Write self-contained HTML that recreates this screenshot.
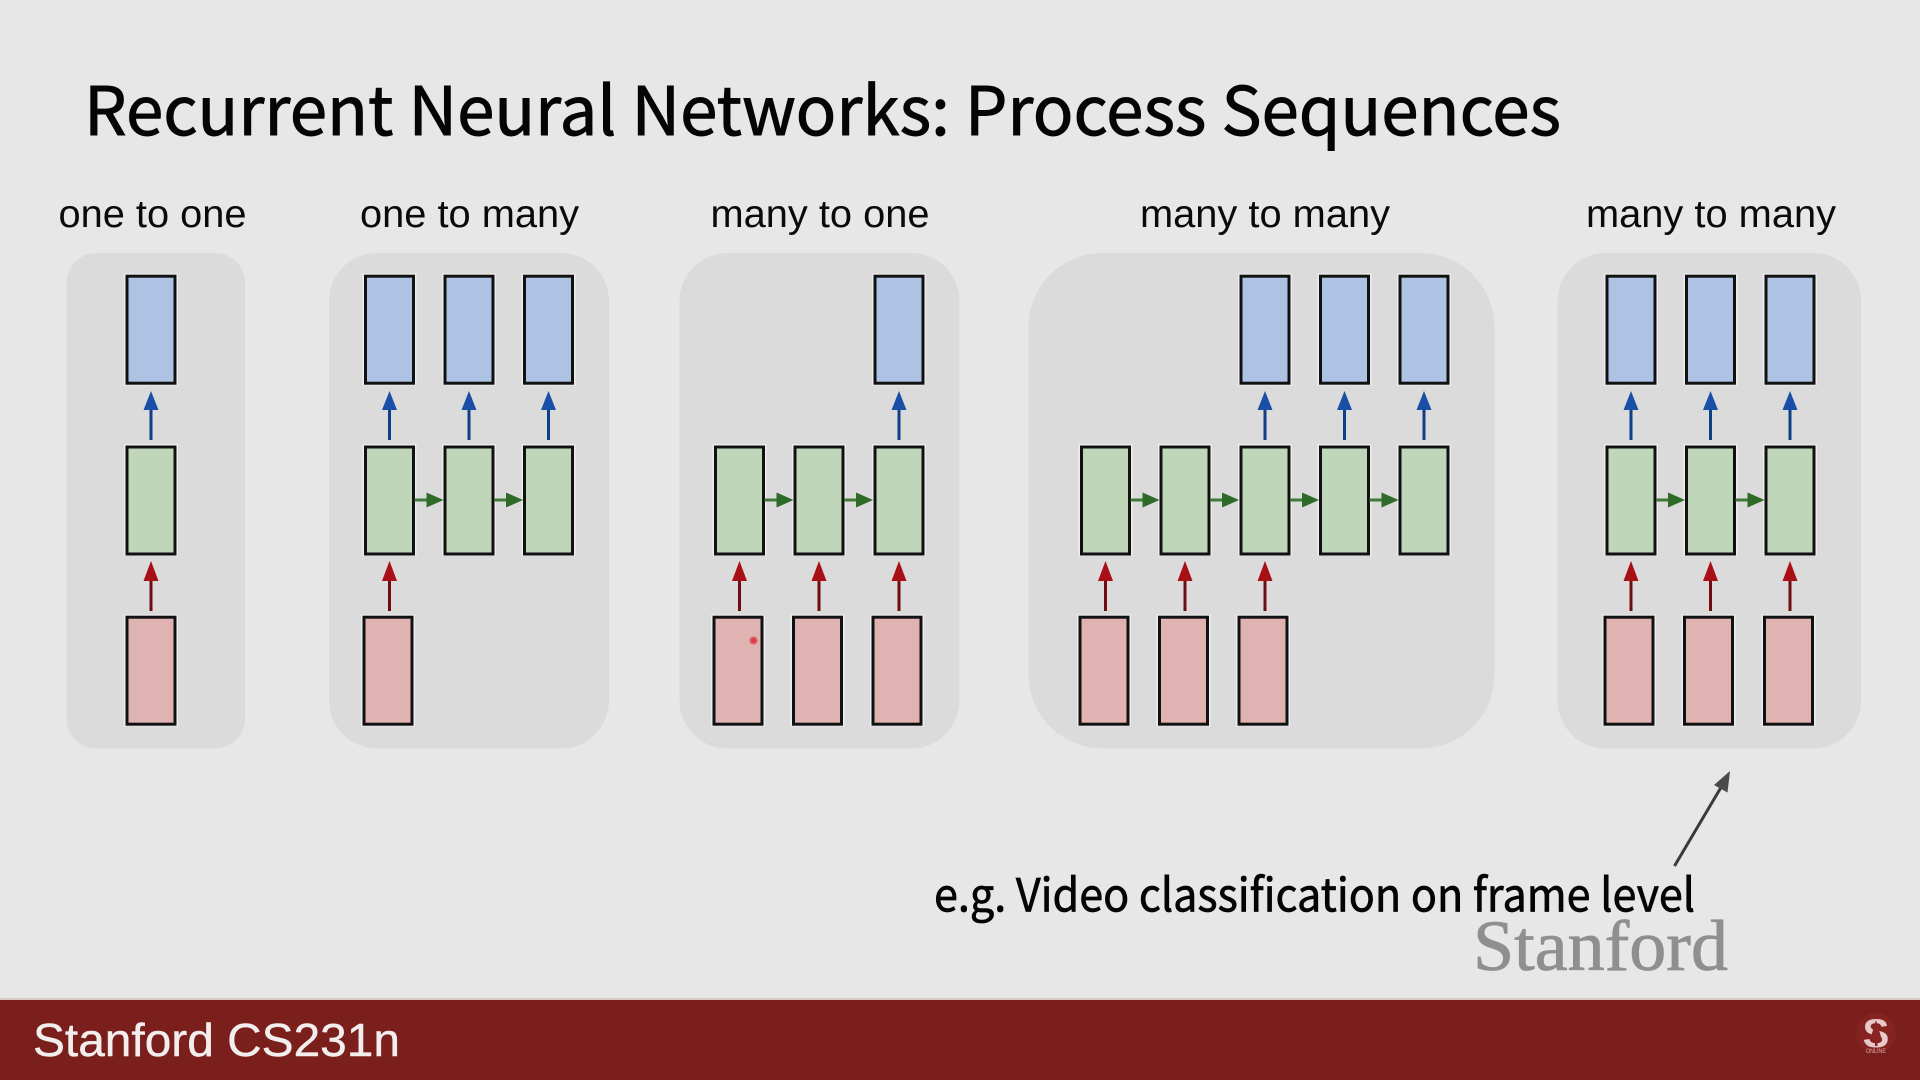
<!DOCTYPE html>
<html><head><meta charset="utf-8"><title>Recurrent Neural Networks: Process Sequences</title>
<style>html,body{margin:0;padding:0;background:#e7e7e7}svg{display:block}</style></head>
<body>
<svg xmlns="http://www.w3.org/2000/svg" width="1920" height="1080" viewBox="0 0 1920 1080">
<defs>
<g id="b"><rect x="-24.5" y="276" width="49" height="107" fill="#aec3e3" stroke="#fff" stroke-width="5" stroke-opacity=".5"/><rect x="-24" y="276.2" width="48" height="107" fill="#aec3e3" stroke="#111" stroke-width="3"/></g>
<g id="g"><rect x="-24.5" y="446.5" width="49" height="107" fill="#c0d6b9" stroke="#fff" stroke-width="5" stroke-opacity=".5"/><rect x="-24" y="447" width="48" height="107" fill="#c0d6b9" stroke="#111" stroke-width="3"/></g>
<g id="r"><rect x="-24.5" y="617" width="49" height="107" fill="#e0b3b3" stroke="#fff" stroke-width="5" stroke-opacity=".5"/><rect x="-24" y="617.2" width="48" height="107" fill="#e0b3b3" stroke="#111" stroke-width="3"/></g>
<g id="ab"><line x1="0" y1="440" x2="0" y2="408" stroke="#0f3f86" stroke-width="3"/><path d="M0 391L7.5 410H-7.5Z" fill="#1a4fa8"/></g>
<g id="ar"><line x1="0" y1="611" x2="0" y2="578" stroke="#6e0d12" stroke-width="3"/><path d="M0 561L7.5 581H-7.5Z" fill="#a80f16"/></g>
<g id="ag"><line x1="0" y1="500" x2="13" y2="500" stroke="#3f7a37" stroke-width="3"/><path d="M12 492.5L29 500L12 507.5Z" fill="#2f6b28"/></g>
</defs>
<rect width="1920" height="1080" fill="#e7e7e7"/>

<g fill="#dadbda">
<rect x="66.500" y="253" width="178.500" height="495.500" rx="30"/>
<rect x="329" y="253" width="280" height="495.500" rx="48"/>
<rect x="679.500" y="253" width="280" height="495.500" rx="48"/>
<rect x="1028.500" y="253" width="466" height="495.500" rx="74"/>
<rect x="1557.500" y="253" width="303.500" height="495.500" rx="48"/>
</g>

<g font-family="'Noto Sans CJK SC','Liberation Sans',sans-serif" fill="#050505" stroke="#050505">
<text x="84" y="135" font-size="67" stroke-width=".9" textLength="1477" lengthAdjust="spacingAndGlyphs">Recurrent Neural Networks: Process Sequences</text>
<text x="934" y="911.500" font-size="46" stroke-width=".7" textLength="761" lengthAdjust="spacingAndGlyphs">e.g. Video classification on frame level</text>
</g>

<g font-family="'Liberation Sans',sans-serif" font-size="39" fill="#0a0a0a">
<text x="58.500" y="227" textLength="188" lengthAdjust="spacingAndGlyphs">one to one</text>
<text x="360" y="227" textLength="219" lengthAdjust="spacingAndGlyphs">one to many</text>
<text x="710.500" y="227" textLength="219" lengthAdjust="spacingAndGlyphs">many to one</text>
<text x="1140" y="227" textLength="250" lengthAdjust="spacingAndGlyphs">many to many</text>
<text x="1586" y="227" textLength="250" lengthAdjust="spacingAndGlyphs">many to many</text>
</g>

<!-- one to one -->
<use href="#b" x="151"/><use href="#ab" x="151"/><use href="#g" x="151"/><use href="#ar" x="151"/><use href="#r" x="151"/>

<!-- one to many -->
<use href="#b" x="389.500"/><use href="#b" x="469"/><use href="#b" x="548.500"/>
<use href="#ab" x="389.500"/><use href="#ab" x="469"/><use href="#ab" x="548.500"/>
<use href="#g" x="389.500"/><use href="#g" x="469"/><use href="#g" x="548.500"/>
<use href="#ag" x="414.500"/><use href="#ag" x="494"/>
<use href="#ar" x="389.500"/><use href="#r" x="388"/>

<!-- many to one -->
<use href="#b" x="899"/><use href="#ab" x="899"/>
<use href="#g" x="739.500"/><use href="#g" x="819"/><use href="#g" x="899"/>
<use href="#ag" x="764.500"/><use href="#ag" x="844"/>
<use href="#ar" x="739.500"/><use href="#ar" x="819"/><use href="#ar" x="899"/>
<use href="#r" x="738"/><use href="#r" x="817.500"/><use href="#r" x="897"/>

<!-- many to many 1 -->
<use href="#b" x="1265"/><use href="#b" x="1344.500"/><use href="#b" x="1424"/>
<use href="#ab" x="1265"/><use href="#ab" x="1344.500"/><use href="#ab" x="1424"/>
<use href="#g" x="1105.500"/><use href="#g" x="1185"/><use href="#g" x="1265"/><use href="#g" x="1344.500"/><use href="#g" x="1424"/>
<use href="#ag" x="1130.500"/><use href="#ag" x="1210"/><use href="#ag" x="1290"/><use href="#ag" x="1369.500"/>
<use href="#ar" x="1105.500"/><use href="#ar" x="1185"/><use href="#ar" x="1265"/>
<use href="#r" x="1104"/><use href="#r" x="1183.500"/><use href="#r" x="1263"/>

<!-- many to many 2 -->
<use href="#b" x="1631"/><use href="#b" x="1710.500"/><use href="#b" x="1790"/>
<use href="#ab" x="1631"/><use href="#ab" x="1710.500"/><use href="#ab" x="1790"/>
<use href="#g" x="1631"/><use href="#g" x="1710.500"/><use href="#g" x="1790"/>
<use href="#ag" x="1656"/><use href="#ag" x="1735.500"/>
<use href="#ar" x="1631"/><use href="#ar" x="1710.500"/><use href="#ar" x="1790"/>
<use href="#r" x="1629"/><use href="#r" x="1708.500"/><use href="#r" x="1788.500"/>

<!-- pointer -->
<circle cx="753.500" cy="640.500" r="3" fill="#d83a40" stroke="#e05a5e" stroke-width="2"/>

<!-- annotation arrow -->
<line x1="1674.500" y1="866" x2="1723" y2="784" stroke="#3a3a3a" stroke-width="3"/>
<path d="M1730 771L1727.500 792.500L1714 785Z" fill="#4a4a4a"/>

<!-- watermark -->
<text x="1473" y="970" font-family="'Liberation Serif',serif" font-size="72" fill="#8e9090" stroke="#8e9090" stroke-width=".8" textLength="255" lengthAdjust="spacingAndGlyphs">Stanford</text>

<!-- footer -->
<rect x="0" y="998" width="1920" height="2" fill="#d9c8c4"/>
<rect x="0" y="1000" width="1920" height="80" fill="#7a1f1c"/>
<text x="33" y="1056" font-family="'Liberation Sans',sans-serif" font-size="46" fill="#f2eeee" stroke="#f2eeee" stroke-width=".4" textLength="367" lengthAdjust="spacingAndGlyphs">Stanford CS231n</text>

<!-- logo -->
<circle cx="1876" cy="1033" r="20" fill="#842320"/>
<text x="1876" y="1047" text-anchor="middle" font-family="'Liberation Sans',sans-serif" font-weight="bold" font-size="40" fill="#e8c8c8">S</text>
<path d="M1876 1020L1882 1040H1870Z" fill="#8a2422"/>
<rect x="1875" y="1038" width="2.500" height="8" fill="#8a2422"/>
<text x="1876" y="1053" text-anchor="middle" font-family="'Liberation Sans',sans-serif" font-size="6.500" fill="#d9a9a9" textLength="20" lengthAdjust="spacingAndGlyphs">ONLINE</text>
</svg>
</body></html>
